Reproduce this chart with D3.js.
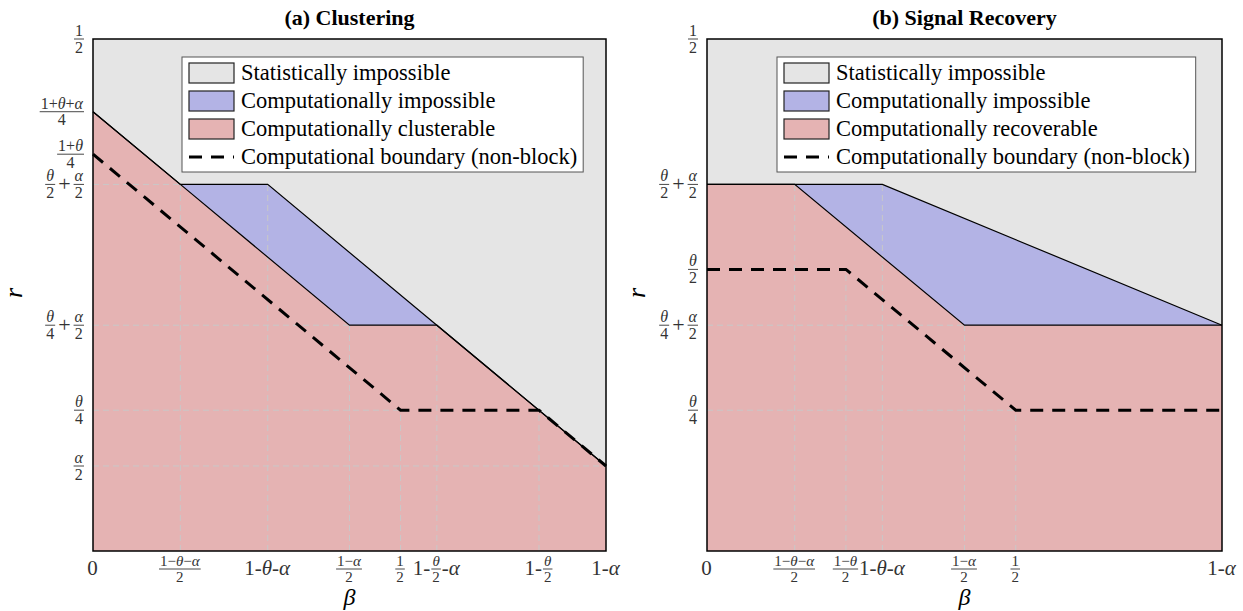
<!DOCTYPE html>
<html>
<head>
<meta charset="utf-8">
<script src="https://cdn.jsdelivr.net/npm/d3@7"></script>
<style>
  body { margin: 0; background: #fff; }
  text { font-family: "Liberation Serif", "Times New Roman", serif; }
</style>
</head>
<body>
<div id="chart"></div>
<script>
// values (theta ~ 0.55, alpha ~ 0.166)
var betaMax = 0.834;
var rMax = 0.5;

// (a) clustering
var clusterStatBeta = [0, 0.142, 0.284, 0.559, 0.834];
var clusterStatR = [0.429, 0.358, 0.358, 0.2205, 0.083];
var clusterCompBeta = [0, 0.142, 0.417, 0.559, 0.834];
var clusterCompR = [0.429, 0.358, 0.2205, 0.2205, 0.083];
var clusterDashBeta = [0, 0.5, 0.725, 0.834];
var clusterDashR = [0.3875, 0.1375, 0.1375, 0.083];
var clusterXTicks = [0, 0.142, 0.284, 0.417, 0.5, 0.559, 0.725, 0.834];
var clusterXLabels = ['0', '[1−θ−α|2]', '1-θ-α', '[1−α|2]', '[1|2]', '1-[θ|2]-α', '1-[θ|2]', '1-α'];
var clusterYTicks = [0.5, 0.429, 0.3875, 0.358, 0.2205, 0.1375, 0.083];
var clusterYLabels = ['[1|2]', '[1+θ+α|4]', '[1+θ|4]', '[θ|2]+[α|2]', '[θ|4]+[α|2]', '[θ|4]', '[α|2]'];
// grid: vertical [beta, top r], horizontal [r, right beta]
var clusterVGrid = [[0.142, 0.358], [0.284, 0.358], [0.417, 0.2205], [0.5, 0.1375], [0.559, 0.2205], [0.725, 0.1375]];
var clusterHGrid = [[0.358, 0.142], [0.2205, 0.417], [0.1375, 0.5], [0.083, 0.834]];
var clusterLegend = ['Statistically impossible', 'Computationally impossible', 'Computationally clusterable', 'Computational boundary (non-block)'];

// (b) signal recovery
var recovStatBeta = [0, 0.284, 0.834];
var recovStatR = [0.358, 0.358, 0.2205];
var recovCompBeta = [0, 0.142, 0.417, 0.834];
var recovCompR = [0.358, 0.358, 0.2205, 0.2205];
var recovDashBeta = [0, 0.225, 0.5, 0.834];
var recovDashR = [0.275, 0.275, 0.1375, 0.1375];
var recovXTicks = [0, 0.142, 0.225, 0.284, 0.417, 0.5, 0.834];
var recovXLabels = ['0', '[1−θ−α|2]', '[1−θ|2]', '1-θ-α', '[1−α|2]', '[1|2]', '1-α'];
var recovYTicks = [0.5, 0.358, 0.275, 0.2205, 0.1375];
var recovYLabels = ['[1|2]', '[θ|2]+[α|2]', '[θ|2]', '[θ|4]+[α|2]', '[θ|4]'];
var recovVGrid = [[0.142, 0.358], [0.225, 0.275], [0.284, 0.358], [0.417, 0.2205], [0.5, 0.1375]];
var recovHGrid = [[0.2205, 0.417], [0.1375, 0.5]];
var recovLegend = ['Statistically impossible', 'Computationally impossible', 'Computationally recoverable', 'Computationally boundary (non-block)'];

var grayFill = '#e5e5e5';
var blueFill = '#b3b3e5';
var redFill = '#e5b3b3';
var labelColor = '#333';

var svg = d3.select('#chart')
  .append('svg')
  .attr('width', 1243)
  .attr('height', 611);

function mathText(g, s, size) {
  var t = g.append('text').attr('font-size', size).attr('fill', labelColor);
  s.split(/([θαβ])/).filter(c => c.length).forEach(function(c) {
    var sp = t.append('tspan').text(c);
    if (/[θαβ]/.test(c)) sp.attr('font-style', 'italic');
  });
  return t;
}

// label with fractions written as [num|den]
function richLabel(g, spec, x, y, anchor, big, small) {
  var lab = g.append('g');
  var cursor = 0;
  spec.split(/(\[[^\]]*\])/).filter(s => s.length).forEach(function(part) {
    if (part[0] === '[') {
      var pieces = part.slice(1, -1).split('|');
      var num = mathText(lab, pieces[0], small).attr('y', -3);
      var den = mathText(lab, pieces[1], small).attr('y', small * 0.85);
      var w = Math.max(num.node().getComputedTextLength(), den.node().getComputedTextLength()) + 2;
      num.attr('x', cursor + w / 2).attr('text-anchor', 'middle');
      den.attr('x', cursor + w / 2).attr('text-anchor', 'middle');
      lab.append('line')
        .attr('x1', cursor).attr('x2', cursor + w)
        .attr('y1', 0).attr('y2', 0)
        .attr('stroke', labelColor).attr('stroke-width', 0.9);
      cursor += w + 1;
    } else {
      var pad = part === '+' ? 2 : 0;
      var t = mathText(lab, part, big).attr('y', big * 0.3).attr('x', cursor + pad);
      cursor += t.node().getComputedTextLength() + 1 + 2 * pad;
    }
  });
  var dx = anchor === 'middle' ? -cursor / 2 : (anchor === 'end' ? -cursor : 0);
  lab.attr('transform', `translate(${x + dx}, ${y})`);
}

function drawPanel(p) {
  var x = d3.scaleLinear().domain([0, betaMax]).range([p.left, p.right]);
  var y = d3.scaleLinear().domain([0, rMax]).range([p.bottom, p.top]);
  var g = svg.append('g');

  var area = d3.area()
    .x(d => x(d[0]))
    .y0(y(0))
    .y1(d => y(d[1]));
  var line = d3.line()
    .x(d => x(d[0]))
    .y(d => y(d[1]));

  var stat = d3.zip(p.statBeta, p.statR);
  var comp = d3.zip(p.compBeta, p.compR);
  var dash = d3.zip(p.dashBeta, p.dashR);

  g.append('rect')
    .attr('x', x(0)).attr('y', y(rMax))
    .attr('width', x(betaMax) - x(0)).attr('height', y(0) - y(rMax))
    .attr('fill', grayFill);
  g.append('path').datum(stat).attr('d', area).attr('fill', blueFill);
  g.append('path').datum(comp).attr('d', area).attr('fill', redFill);

  // grid lines
  p.vGrid.forEach(function(v) {
    g.append('line')
      .attr('x1', x(v[0])).attr('x2', x(v[0]))
      .attr('y1', y(0)).attr('y2', y(v[1]))
      .attr('stroke', '#c8c8c8').attr('stroke-width', 1)
      .attr('stroke-dasharray', '6,4');
  });
  p.hGrid.forEach(function(h) {
    g.append('line')
      .attr('x1', x(0)).attr('x2', x(h[1]))
      .attr('y1', y(h[0])).attr('y2', y(h[0]))
      .attr('stroke', '#c8c8c8').attr('stroke-width', 1)
      .attr('stroke-dasharray', '6,4');
  });

  g.append('path').datum(stat).attr('d', line)
    .attr('fill', 'none').attr('stroke', '#000').attr('stroke-width', 1.2);
  g.append('path').datum(comp).attr('d', line)
    .attr('fill', 'none').attr('stroke', '#000').attr('stroke-width', 1.2);
  g.append('path').datum(dash).attr('d', line)
    .attr('fill', 'none').attr('stroke', '#000').attr('stroke-width', 3)
    .attr('stroke-dasharray', '13,9');

  // frame
  g.append('rect')
    .attr('x', x(0)).attr('y', y(rMax))
    .attr('width', x(betaMax) - x(0)).attr('height', y(0) - y(rMax))
    .attr('fill', 'none').attr('stroke', '#000').attr('stroke-width', 1.5);

  // tick labels
  p.xTicks.forEach(function(t, i) {
    richLabel(g, p.xLabels[i], x(t), p.bottom + 18, 'middle', 21, 15);
  });
  p.yTicks.forEach(function(t, i) {
    richLabel(g, p.yLabels[i], p.left - 8, y(t), 'end', 22, 16);
  });

  // axis titles
  g.append('text')
    .attr('x', (p.left + p.right) / 2).attr('y', 605)
    .attr('text-anchor', 'middle')
    .attr('font-size', 24).attr('font-style', 'italic')
    .text('β');
  g.append('text')
    .attr('transform', `translate(${p.rLabelX}, ${(p.top + p.bottom) / 2 - 2}) rotate(-90)`)
    .attr('text-anchor', 'middle')
    .attr('font-size', 26).attr('font-style', 'italic')
    .text('r');

  g.append('text')
    .attr('x', (p.left + p.right) / 2).attr('y', 25)
    .attr('text-anchor', 'middle')
    .attr('font-size', 22).attr('font-weight', 'bold')
    .text(p.title);

  // legend
  var lg = g.append('g').attr('transform', `translate(${p.legendX}, 57)`);
  var widest = 0;
  p.legend.forEach(function(name, i) {
    var cy = 16 + i * 28;
    if (i < 3) {
      lg.append('rect')
        .attr('x', 7).attr('y', cy - 10)
        .attr('width', 45).attr('height', 20)
        .attr('fill', [grayFill, blueFill, redFill][i])
        .attr('stroke', '#222').attr('stroke-width', 1.2);
    } else {
      lg.append('line')
        .attr('x1', 7).attr('x2', 52)
        .attr('y1', cy).attr('y2', cy)
        .attr('stroke', '#000').attr('stroke-width', 3)
        .attr('stroke-dasharray', '13,9');
    }
    var t = lg.append('text')
      .attr('x', 59).attr('y', cy + 7)
      .attr('font-size', 22.5)
      .text(name);
    widest = Math.max(widest, t.node().getComputedTextLength());
  });
  lg.insert('rect', ':first-child')
    .attr('x', 0).attr('y', 0)
    .attr('width', 59 + widest + 6).attr('height', 115)
    .attr('fill', '#fff').attr('stroke', '#555').attr('stroke-width', 1);
}

drawPanel({
  title: '(a) Clustering',
  left: 93, right: 606, top: 39, bottom: 551, rLabelX: 22,
  statBeta: clusterStatBeta, statR: clusterStatR,
  compBeta: clusterCompBeta, compR: clusterCompR,
  dashBeta: clusterDashBeta, dashR: clusterDashR,
  xTicks: clusterXTicks, xLabels: clusterXLabels,
  yTicks: clusterYTicks, yLabels: clusterYLabels,
  vGrid: clusterVGrid, hGrid: clusterHGrid,
  legend: clusterLegend, legendX: 182
});

drawPanel({
  title: '(b) Signal Recovery',
  left: 707, right: 1222, top: 39, bottom: 551, rLabelX: 645,
  statBeta: recovStatBeta, statR: recovStatR,
  compBeta: recovCompBeta, compR: recovCompR,
  dashBeta: recovDashBeta, dashR: recovDashR,
  xTicks: recovXTicks, xLabels: recovXLabels,
  yTicks: recovYTicks, yLabels: recovYLabels,
  vGrid: recovVGrid, hGrid: recovHGrid,
  legend: recovLegend, legendX: 777
});
</script>
</body>
</html>
